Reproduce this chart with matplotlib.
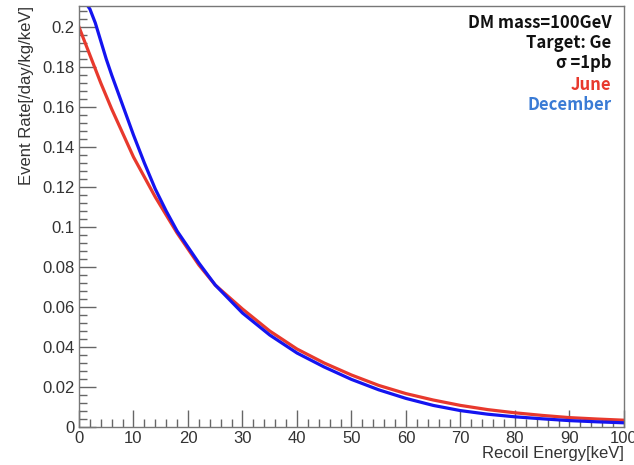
import matplotlib.pyplot as plt
from matplotlib.ticker import MultipleLocator

# values
june_energy = [0, 2, 4, 6, 8, 10, 12, 14, 16, 18, 20, 22, 25, 30, 35, 40, 45,
               50, 55, 60, 65, 70, 75, 80, 85, 90, 95, 100]
june_rate = [0.200, 0.186, 0.172, 0.159, 0.147, 0.135, 0.125, 0.115, 0.106,
             0.097, 0.089, 0.081, 0.071, 0.059, 0.048, 0.039, 0.032, 0.026,
             0.0208, 0.0167, 0.0135, 0.0108, 0.0087, 0.0071, 0.0058, 0.0047,
             0.0040, 0.0034]

dec_energy = [0, 1, 2, 3, 4, 5, 6, 8, 10, 12, 14, 16, 18, 20, 22, 25, 30, 35,
              40, 45, 50, 55, 60, 65, 70, 75, 80, 85, 90, 95, 100]
dec_rate = [0.214, 0.213, 0.209, 0.202, 0.193, 0.184, 0.176, 0.161, 0.146,
            0.132, 0.119, 0.108, 0.098, 0.090, 0.082, 0.071, 0.057, 0.046,
            0.037, 0.030, 0.0238, 0.0186, 0.0143, 0.0108, 0.0082, 0.0064,
            0.0051, 0.0041, 0.0032, 0.0026, 0.0021]

info_lines = ["DM mass=100GeV", "Target: Ge", "\u03c3 =1pb"]

plt.rcParams['font.family'] = ['Liberation Sans', 'DejaVu Sans']

fig = plt.figure(figsize=(6.34, 4.65), dpi=100)
ax = fig.add_axes([0.1246, 0.0817, 0.8596, 0.9053])

ax.plot(june_energy, june_rate, color='#e8392d', lw=2.3)
ax.plot(dec_energy, dec_rate, color='#1414f0', lw=2.3)

ax.set_xlim(0, 100)
ax.set_ylim(0, 0.2105)

ax.xaxis.set_minor_locator(MultipleLocator(2))
ax.yaxis.set_minor_locator(MultipleLocator(0.004))
ax.set_yticks([0, 0.02, 0.04, 0.06, 0.08, 0.1, 0.12, 0.14, 0.16, 0.18, 0.2])
ax.set_yticklabels(['0', '0.02', '0.04', '0.06', '0.08', '0.1', '0.12',
                    '0.14', '0.16', '0.18', '0.2'])
ax.set_xticks(range(0, 101, 10))
ax.set_xticklabels([str(v) for v in range(0, 101, 10)])

ax.tick_params(axis='y', which='major', direction='in', length=12, width=1,
               color='#666666', labelsize=12, labelcolor='#333333', pad=3)
ax.tick_params(axis='y', which='minor', direction='in', length=6, width=1,
               color='#666666')
ax.tick_params(axis='x', which='major', direction='in', length=12, width=1,
               color='#666666', labelsize=12, labelcolor='#333333', pad=3)
ax.tick_params(axis='x', which='minor', direction='in', length=6, width=1,
               color='#666666')
for s in ax.spines.values():
    s.set_color('#777777')
    s.set_linewidth(1.0)

ax.set_xlabel("Recoil Energy[keV]", fontsize=12, color='#333333', loc='right',
              labelpad=0)
ax.set_ylabel("Event Rate[/day/kg/keV]", fontsize=12, color='#333333',
              loc='top', labelpad=6)

txt_font = ['Noto Sans CJK JP', 'DejaVu Sans']
ys = [0.960, 0.912, 0.865]
for s, y in zip(info_lines, ys):
    ax.text(0.977, y, s, transform=ax.transAxes, ha='right', va='center',
            fontsize=12, fontweight='bold', family=txt_font, color='#111111')
ax.text(0.977, 0.813, "June", transform=ax.transAxes, ha='right', va='center',
        fontsize=12, fontweight='bold', family=txt_font, color='#e8392d')
ax.text(0.977, 0.766, "December", transform=ax.transAxes, ha='right',
        va='center', fontsize=12, fontweight='bold', family=txt_font,
        color='#3a7bd5')

fig.savefig("out.png", dpi=100)
